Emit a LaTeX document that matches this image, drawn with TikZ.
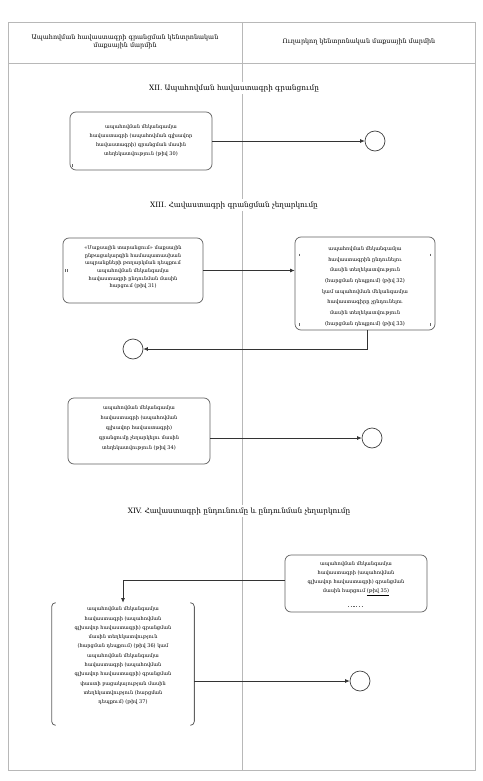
\documentclass[tikz,border=0pt]{standalone}
\usepackage{fontspec}
\setmainfont{DejaVu Serif}
\usetikzlibrary{arrows.meta,calc}
\tikzset{
  lane/.style={draw=black!28, line width=0.6pt},
  task/.style={draw=black!62, line width=0.7pt, rounded corners=6pt, fill=white, align=center,
    inner sep=2pt, font=\fontsize{5}{9}\selectfont},
  endev/.style={circle, draw=black!75, line width=0.7pt, minimum size=20pt, inner sep=0pt},
  flow/.style={draw=black!80, line width=0.7pt, -{Latex[length=4.5pt,width=4pt]}},
  stitle/.style={fill=white, inner sep=2pt, font=\fontsize{7.3}{8.5}\selectfont},
  head/.style={align=center, font=\fontsize{6.4}{8.2}\selectfont},
  tickmark/.style={draw=black!60, line width=0.5pt}
}
\begin{document}
\begin{tikzpicture}[x=1pt,y=-1pt]
\useasboundingbox (0,0) rectangle (482,781);
% pool and lanes
\draw[lane] (8,22) rectangle (475,770);
\draw[lane] (8,63) -- (475,63);
\draw[lane] (242,22) -- (242,770);
\node[head] (h1) at (125,42) {Ապահովման հավաստագրի գրանցման կենտրոնական\\մաքսային մարմին};
\node[head] (h2) at (359,42) {Ուղարկող կենտրոնական մաքսային մարմին};
% section titles
\node[stitle] (t12) at (234,88) {XII. Ապահովման հավաստագրի գրանցումը};
\node[stitle] (t13) at (234,205) {XIII. Հավաստագրի գրանցման չեղարկումը};
\node[stitle] (t14) at (239,511) {XIV. Հավաստագրի ընդունումը և ընդունման չեղարկումը};
% tasks
\node[task, minimum width=142pt, minimum height=58pt] (b1) at (141,141)
 {ապահովման մեկանգամյա\\հավաստագրի (ապահովման գլխավոր\\հավաստագրի) գրանցման մասին\\տեղեկատվություն (թիվ 30)};
\node[endev] (e1) at (375,141) {};
\node[task, minimum width=140pt, minimum height=65pt, font=\fontsize{5}{7.6}\selectfont] (b2) at (133,270.5)
 {«Մաքսային տարանցում» մաքսային\\ընթացակարգին համապատասխան\\ապրանքների թողարկման դեպքում\\ապահովման մեկանգամյա\\հավաստագրի ընդունման մասին\\հարցում (թիվ 31)\\[0pt]\phantom{x}};
\node[task, minimum width=140pt, minimum height=93pt, font=\fontsize{5.1}{10.7}\selectfont] (b3) at (365,283.5)
 {\phantom{x}\\[-3.7pt]ապահովման մեկանգամյա\\հավաստագրին ընդունելու\\մասին տեղեկատվություն\\(հարցման դեպքում) (թիվ 32)\\կամ ապահովման մեկանգամյա\\հավաստագիրը չընդունելու\\մասին տեղեկատվություն\\(հարցման դեպքում) (թիվ 33)};
\node[endev] (e2) at (133,349) {};
\node[task, minimum width=142pt, minimum height=66pt, font=\fontsize{5}{10}\selectfont] (b4) at (139,431)
 {ապահովման մեկանգամյա\\հավաստագրի (ապահովման\\գլխավոր հավաստագրի)\\գրանցումը չեղարկելու մասին\\տեղեկատվություն (թիվ 34)\\[-4pt]\phantom{x}};
\node[endev] (e3) at (372,438) {};
\node[task, minimum width=142pt, minimum height=57pt] (b5) at (356,583.5)
 {ապահովման մեկանգամյա\\հավաստագրի (ապահովման\\գլխավոր հավաստագրի) գրանցման\\մասին հարցում \underline{(թիվ 35)}\\[3pt]\phantom{x}};
\node[task, draw=none, minimum width=142pt, minimum height=122pt, font=\fontsize{5}{9.3}\selectfont] (b6) at (123,664)
 {ապահովման մեկանգամյա\\հավաստագրի (ապահովման\\գլխավոր հավաստագրի) գրանցման\\մասին տեղեկատվություն\\(հարցման դեպքում) (թիվ 36) կամ\\ապահովման մեկանգամյա\\հավաստագրի (ապահովման\\գլխավոր հավաստագրի) գրանցման\\փաստի բացակայության մասին\\տեղեկատվություն (հարցման\\դեպքում) (թիվ 37)\\[8pt]\phantom{x}};
\node[endev] (e4) at (360,681) {};
% bracket-like sides of b6
\draw[draw=black!62, line width=0.8pt] ([xshift=4pt]b6.north west) arc[start angle=90,end angle=180,radius=4pt] -- ([yshift=4pt]b6.south west) arc[start angle=180,end angle=270,radius=4pt];
\draw[draw=black!62, line width=0.8pt] ([xshift=-4pt]b6.north east) arc[start angle=90,end angle=0,radius=4pt] -- ([yshift=4pt]b6.south east) arc[start angle=0,end angle=-90,radius=4pt];
% small markers
\draw[tickmark] ([shift={(3pt,6pt)}]b1.south west) -- ++(0,2.5);
\draw[tickmark] ([xshift=3pt]b2.west) ++(0,-1.5) -- ++(0,3) ++(1.2,0) -- ++(0,-3);
\draw[tickmark] ([shift={(5pt,-17pt)}]b3.north west) -- ++(0,2.5);
\draw[tickmark] ([shift={(-5pt,-17pt)}]b3.north east) -- ++(0,2.5);
\draw[tickmark] ([shift={(5pt,7pt)}]b3.south west) -- ++(0,2.5);
\draw[tickmark] ([shift={(-5pt,7pt)}]b3.south east) -- ++(0,2.5);
\draw[tickmark, dash pattern=on 1.2pt off 1.5pt] ([shift={(-8pt,6pt)}]b5.south) -- ++(16,0);
% flows
\draw[flow] (b1.east) -- (e1.west);
\draw[flow] (b2.east) -- (b2.east -| b3.west);
\draw[flow] ([xshift=2pt]b3.south) |- (e2.east);
\draw[flow] (b4.east |- e3) -- (e3.west);
\draw[flow] ([yshift=3.5pt]b5.west) -| (b6.north);
\draw[flow] (b6.east |- e4) -- (e4.west);
\end{tikzpicture}
\end{document}
